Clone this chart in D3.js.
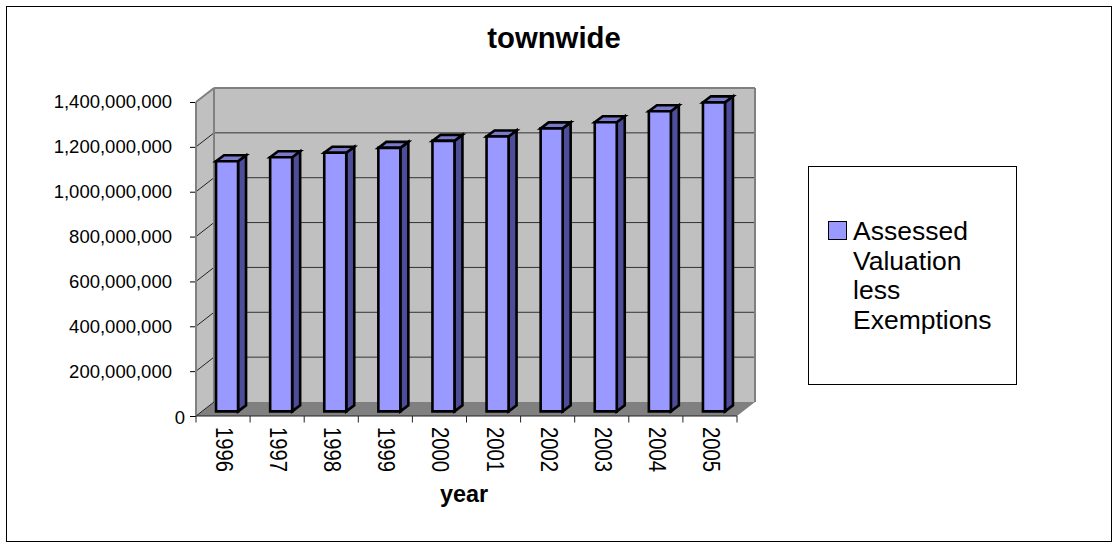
<!DOCTYPE html>
<html><head><meta charset="utf-8">
<script src="https://cdn.jsdelivr.net/npm/d3@7"></script>
<style>html,body{margin:0;padding:0;background:#fff}svg{display:block}text{font-family:"Liberation Sans",Arial,sans-serif;fill:#000}</style>
</head><body><svg id="c" width="1117" height="542"></svg>
<script>
const years = ["1996","1997","1998","1999","2000","2001","2002","2003","2004","2005"];
const values = [1115e6,1133e6,1153e6,1175e6,1206e6,1226e6,1262e6,1289e6,1338e6,1378e6];
const yTicks = [0,2e8,4e8,6e8,8e8,1e9,1.2e9,1.4e9];
const title = "townwide", xTitle = "year";
const legendLines = ["Assessed","Valuation","less","Exemptions"];

const svg = d3.select("#c");
const x = d3.scaleBand().domain(years).range([196,737]);
const y = d3.scaleLinear().domain([0,1.4e9]).range([416,102]);
const dx = 18, dy = -14;
const barOffX = 4, barOffY = -4.6, barDX = 8, barDY = -6;
const bw = 22;

svg.append("rect").attr("x",6.5).attr("y",6.5).attr("width",1105).attr("height",535).attr("fill","#fff").attr("stroke","#000");

const poly = (pts,fill)=>svg.append("polygon").attr("points",pts.map(p=>p.join(",")).join(" ")).attr("fill",fill);
const x0=x.range()[0], x1=x.range()[1], y0=y(0), yT=y(1.4e9);
poly([[x0,y0],[x0+dx,y0+dy],[x0+dx,yT+dy],[x0,yT]],"#c0c0c0");
poly([[x0+dx,y0+dy],[x1+dx,y0+dy],[x1+dx,yT+dy],[x0+dx,yT+dy]],"#c0c0c0");
poly([[x0,y0],[x1,y0],[x1+dx,y0+dy],[x0+dx,y0+dy]],"#808080");
const edge = (a,b,c,w)=>svg.append("line").attr("x1",a[0]).attr("y1",a[1]).attr("x2",b[0]).attr("y2",b[1]).attr("stroke",c).attr("stroke-width",w);

yTicks.filter(d=>d>0 && d<1.4e9).forEach(d=>{
  edge([x0,y(d)],[x0+dx,y(d)+dy],"#222",1);
  edge([x0+dx,y(d)+dy],[x1+dx,y(d)+dy],"#333",1);
});
edge([x0+dx,yT+dy],[x1+dx,yT+dy],"#808080",2);
edge([x1+dx,yT+dy],[x1+dx,y0+dy],"#808080",2);
edge([x0+dx,yT+dy],[x0+dx,y0+dy],"#808080",2);
edge([x0,yT],[x0+dx,yT+dy],"#808080",2);
edge([x0,yT],[x0,y0],"#808080",2);
edge([x0,y0],[x0+dx,y0+dy],"#222",1);

const g = svg.append("g").selectAll("g").data(years).join("g");
g.each(function(yr,i){
  const s = d3.select(this);
  const cx = x(yr)+x.bandwidth()/2 + barOffX;
  const l = cx-bw/2, r = cx+bw/2;
  const b = y(0)+barOffY, t = y(values[i])+barOffY;
  const p=(pts,fill)=>s.append("polygon").attr("points",pts.map(q=>q.join(",")).join(" ")).attr("fill",fill).attr("stroke","#000").attr("stroke-width",2.6).attr("stroke-linejoin","miter");
  p([[r,b],[r+barDX,b+barDY],[r+barDX,t+barDY],[r,t]],"#4d4d99");
  p([[l,t],[r,t],[r+barDX,t+barDY],[l+barDX,t+barDY]],"#7a7acc");
  p([[l,b],[r,b],[r,t],[l,t]],"#9999ff");
});

const yAxis = d3.axisLeft(y).tickValues(yTicks).tickFormat(d3.format(",")).tickSize(6).tickPadding(18);
const ya = svg.append("g").attr("transform",`translate(${x0},0)`).call(yAxis);
ya.selectAll("text").style("font-size","18.5px").attr("dx",d=>d===0?13:0).attr("dy",d=>d===0?"1.3":"0.32em");
ya.selectAll("text").filter(d=>d===0).attr("dy","7");
ya.select(".domain").remove();
edge([x0,yT],[x0,y0],"#808080",2);

const xa = svg.append("g");
xa.selectAll("text").data(years).join("text")
  .attr("transform",d=>`translate(${x(d)+x.bandwidth()/2-7},427) rotate(90)`)
  .attr("textLength",45).attr("lengthAdjust","spacingAndGlyphs")
  .style("font-size","24px").text(d=>d);
edge([x0,y0],[x1,y0],"#222",1);
d3.range(11).forEach(i=>{const px=x0+(x1-x0)*i/10; edge([px,y0],[px,y0+6.5],"#222",1);});

svg.append("text").attr("x",554).attr("y",47.5).attr("text-anchor","middle").style("font-size","29.3px").style("font-weight","bold").text(title);
svg.append("text").attr("x",464).attr("y",502).attr("text-anchor","middle").style("font-size","23.4px").style("font-weight","bold").text(xTitle);

svg.append("rect").attr("x",808.5).attr("y",166.5).attr("width",208).attr("height",218).attr("fill","#fff").attr("stroke","#000");
svg.append("rect").attr("x",828.5).attr("y",221.5).attr("width",18).attr("height",18).attr("fill","#9999ff").attr("stroke","#000");
svg.selectAll(".lg").data(legendLines).join("text").attr("class","lg").attr("x",853).attr("y",(d,i)=>240+i*29.5).style("font-size","26.5px").text(d=>d);
</script></body></html>
